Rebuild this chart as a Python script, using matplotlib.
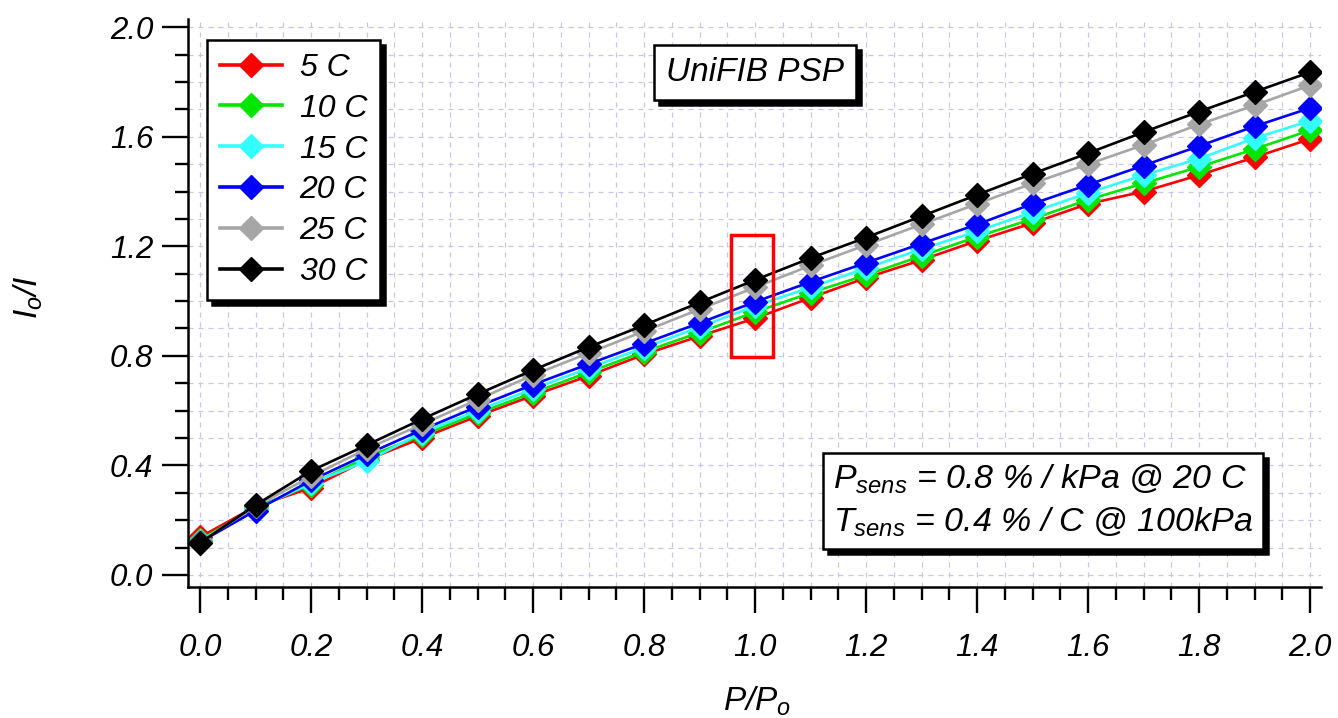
import matplotlib
matplotlib.use("Agg")
import matplotlib.pyplot as plt
from matplotlib.patches import Rectangle, Shadow
from matplotlib.ticker import MultipleLocator

plt.rcParams['font.family'] = ['Liberation Sans', 'DejaVu Sans']
plt.rcParams['font.style'] = 'italic'
plt.rcParams['mathtext.fontset'] = 'custom'
plt.rcParams['mathtext.it'] = 'Liberation Sans:italic'
plt.rcParams['mathtext.rm'] = 'Liberation Sans:italic'

# pressure ratio P/Po
p_ratio = [0.0, 0.1, 0.2, 0.3, 0.4, 0.5, 0.6, 0.7, 0.8, 0.9, 1.0,
           1.1, 1.2, 1.3, 1.4, 1.5, 1.6, 1.7, 1.8, 1.9, 2.0]

# Io/I readings per temperature
i_5c = [0.138, 0.250, 0.318, 0.420, 0.500, 0.580, 0.655, 0.727, 0.805, 0.872, 0.937,
        1.012, 1.085, 1.150, 1.220, 1.285, 1.355, 1.400, 1.460, 1.525, 1.592]
i_10c = [0.128, 0.245, 0.330, 0.430, 0.510, 0.590, 0.665, 0.740, 0.815, 0.885, 0.960,
         1.030, 1.095, 1.165, 1.235, 1.300, 1.370, 1.430, 1.490, 1.555, 1.624]
i_15c = [0.125, 0.240, 0.335, 0.415, 0.520, 0.600, 0.680, 0.755, 0.830, 0.905, 0.982,
         1.050, 1.120, 1.190, 1.255, 1.325, 1.395, 1.460, 1.520, 1.595, 1.658]
i_20c = [0.120, 0.235, 0.345, 0.440, 0.530, 0.615, 0.695, 0.770, 0.845, 0.920, 0.997,
         1.070, 1.140, 1.210, 1.280, 1.355, 1.425, 1.495, 1.566, 1.638, 1.705]
i_25c = [0.120, 0.250, 0.360, 0.460, 0.550, 0.640, 0.730, 0.810, 0.890, 0.970, 1.050,
         1.130, 1.205, 1.280, 1.355, 1.430, 1.500, 1.570, 1.645, 1.715, 1.788]
i_30c = [0.117, 0.255, 0.380, 0.474, 0.569, 0.660, 0.748, 0.832, 0.912, 0.995, 1.077,
         1.157, 1.232, 1.310, 1.388, 1.465, 1.540, 1.617, 1.692, 1.764, 1.836]

series = [i_5c, i_10c, i_15c, i_20c, i_25c, i_30c]
labels = ['5 C', '10 C', '15 C', '20 C', '25 C', '30 C']
colors = ['#ff0000', '#00e600', '#33ffff', '#0000ff', '#a6a6a6', '#000000']

fig = plt.figure(figsize=(13.38, 7.18), dpi=100)
ax = fig.add_axes([0.1404, 0.1825, 0.847, 0.791])

for y, lab, c in zip(series, labels, colors):
    ax.plot(p_ratio, y, color=c, lw=1.9, marker='D', ms=12.5, mec=c, label=lab)

ax.set_xlim(-0.022, 2.02)
ax.set_ylim(-0.044, 2.03)

ax.xaxis.set_major_locator(MultipleLocator(0.2))
ax.xaxis.set_minor_locator(MultipleLocator(0.05))
ax.yaxis.set_major_locator(MultipleLocator(0.4))
ax.yaxis.set_minor_locator(MultipleLocator(0.1))
ax.xaxis.set_major_formatter(lambda v, pos: f'{v:.1f}')
ax.yaxis.set_major_formatter(lambda v, pos: f'{v:.1f}')

ax.grid(True, which='both', color='#c6c6ea', ls=(0, (4, 4)), lw=0.9)
ax.set_axisbelow(True)

for s in ['top', 'right']:
    ax.spines[s].set_visible(False)
for s in ['left', 'bottom']:
    ax.spines[s].set_linewidth(1.8)

ax.tick_params(which='major', length=19, width=1.7, labelsize=22.5)
ax.tick_params(which='minor', length=9.5, width=1.7)
ax.tick_params(axis='x', which='major', pad=14)
ax.tick_params(axis='y', which='major', pad=6)

ax.set_xlabel(r'$P/P_o$', fontsize=24)
ax.set_ylabel(r'$I_o/I$', fontsize=24)
ax.xaxis.set_label_coords(0.502, -0.172)
ax.yaxis.set_label_coords(-0.126, 0.51)

leg = ax.legend(loc='upper left', bbox_to_anchor=(207 / 1338, 1 - 40 / 718),
                bbox_transform=fig.transFigure, borderaxespad=0, fontsize=23,
                frameon=True, fancybox=False, edgecolor='black', handlelength=1.95,
                handletextpad=0.55, labelspacing=0.34, borderpad=0.4,
                shadow={'color': 'black', 'alpha': 1, 'ox': 3.6, 'oy': -3.6})
leg.get_frame().set_linewidth(1.8)
for h in leg.legend_handles:
    h.set_linewidth(2.6)

title_kw = dict(boxstyle='square,pad=0.35', fc='white', ec='black', lw=1.8)
title_txt = ax.text(1.0, 1.835, 'UniFIB PSP', fontsize=24, ha='center', va='center',
                    bbox=title_kw, zorder=6)

note_kw = dict(boxstyle='square,pad=0.3', fc='white', ec='black', lw=1.8)
note = r'$P_{sens}$ = 0.8 % / kPa @ 20 C' + '\n' + r'$T_{sens}$ = 0.4 % / C @ 100kPa'
note_txt = ax.text(1.14, 0.27, note, fontsize=24.5, ha='left', va='center',
                   linespacing=1.35, bbox=note_kw, zorder=6)

ax.add_patch(Rectangle((0.957, 0.796), 0.075, 0.445, fill=False,
                       edgecolor='#ff0000', lw=2.5, zorder=7))

# black drop shadows behind the two text boxes
fig.canvas.draw()
for t in [title_txt, note_txt]:
    sh = Shadow(t.get_bbox_patch(), 3.6, -3.6, facecolor='black',
                edgecolor='black', alpha=1, zorder=5)
    ax.add_artist(sh)
    sh.set_clip_on(False)

fig.savefig('out.png', dpi=100)
